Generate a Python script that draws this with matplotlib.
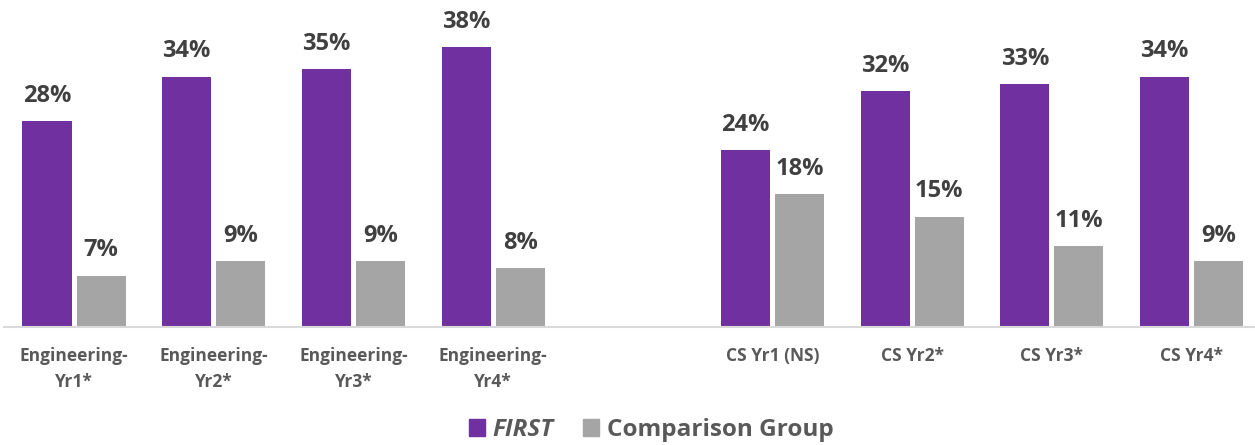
import numpy as np
import matplotlib
matplotlib.use("Agg")
import matplotlib.pyplot as plt
from matplotlib.patches import Patch

categories = ["Engineering-\nYr1*", "Engineering-\nYr2*", "Engineering-\nYr3*", "Engineering-\nYr4*", "",
              "CS Yr1 (NS)", "CS Yr2*", "CS Yr3*", "CS Yr4*"]
first_vals = [28, 34, 35, 38, None, 24, 32, 33, 34]
comp_vals = [7, 9, 9, 8, None, 18, 15, 11, 9]

PURPLE = "#7030A0"
GRAY = "#A5A5A5"

plt.rcParams["font.family"] = ["Open Sans", "DejaVu Sans"]

fig = plt.figure(figsize=(12.55, 4.45), dpi=100)
# plot area runs a little past the right edge, as in the original
ax = fig.add_axes([4.2 / 1255, 0.265, 1257.1 / 1255, 0.735])

x = np.arange(len(categories))
w = 0.351
gap = 0.036
for i in range(len(categories)):
    if first_vals[i] is None:
        continue
    ax.bar(x[i] - w / 2 - gap / 2, first_vals[i], width=w, color=PURPLE)
    ax.bar(x[i] + w / 2 + gap / 2, comp_vals[i], width=w, color=GRAY)
    ax.text(x[i] - w / 2 - gap / 2, first_vals[i] + 1.8, f"{first_vals[i]}%", ha="center", va="bottom",
            fontsize=17, fontweight="bold", color="#404040")
    ax.text(x[i] + w / 2 + gap / 2, comp_vals[i] + 1.8, f"{comp_vals[i]}%", ha="center", va="bottom",
            fontsize=17, fontweight="bold", color="#404040")

ax.set_xlim(-0.5, len(categories) - 0.5)
ax.set_ylim(0, 44.4)
ax.set_xticks(x)
ax.set_xticklabels(categories, fontsize=12.5, fontweight="bold", color="#595959", linespacing=1.6)
ax.tick_params(axis="x", length=0, pad=14)
ax.set_yticks([])
for s in ["top", "right", "left"]:
    ax.spines[s].set_visible(False)
ax.spines["bottom"].set_color("#D9D9D9")
ax.spines["bottom"].set_linewidth(1.5)

handles = [Patch(color=PURPLE), Patch(color=GRAY)]
leg = fig.legend(handles, ["FIRST", "Comparison Group"], loc="center", bbox_to_anchor=(0.519, 0.034),
                 ncol=2, frameon=False, handlelength=0.66, handleheight=0.66, handletextpad=0.33,
                 columnspacing=1.2, prop={"size": 17.5, "weight": "bold"})
for t in leg.get_texts():
    t.set_color("#595959")
leg.get_texts()[0].set_style("italic")

fig.savefig("out.png", dpi=100)
